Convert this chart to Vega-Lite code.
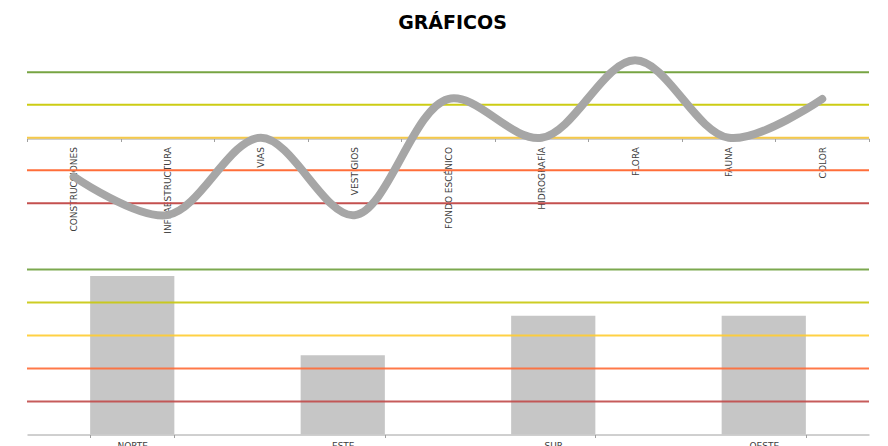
{
  "$schema": "https://vega.github.io/schema/vega-lite/v6.json",
  "padding": {"left": 23, "top": 14, "right": 18, "bottom": 0},
  "background": "white",
  "title": {"text": "GRÁFICOS", "fontSize": 19, "font": "DejaVu Sans", "fontWeight": "bold", "anchor": "middle", "color": "#000000", "offset": 8, "dx": 6},
  "config": {"view": {"stroke": null}, "concat": {"spacing": 18}},
  "datasets": {
    "curve": [
      {"factor": "CONSTRUCCIONES", "valor": 2},
      {"factor": "INFRAESTRUCTURA", "valor": 1},
      {"factor": "VIAS", "valor": 3},
      {"factor": "VESTIGIOS", "valor": 1},
      {"factor": "FONDO ESCÉNICO", "valor": 4},
      {"factor": "HIDROGRAFÍA", "valor": 3},
      {"factor": "FLORA", "valor": 5},
      {"factor": "FAUNA", "valor": 3},
      {"factor": "COLOR", "valor": 4}
    ],
    "topLevels": [
      {"nivel": "verde", "valor": 4.69},
      {"nivel": "amarillo", "valor": 3.85},
      {"nivel": "dorado", "valor": 3.0},
      {"nivel": "naranja", "valor": 2.16},
      {"nivel": "rojo", "valor": 1.31}
    ],
    "bars": [
      {"zona": "NORTE", "valor": 4.8},
      {"zona": "ESTE", "valor": 2.4},
      {"zona": "SUR", "valor": 3.6},
      {"zona": "OESTE", "valor": 3.6}
    ],
    "bottomLevels": [
      {"nivel": "verde", "valor": 5},
      {"nivel": "amarillo", "valor": 4},
      {"nivel": "dorado", "valor": 3},
      {"nivel": "naranja", "valor": 2},
      {"nivel": "rojo", "valor": 1}
    ]
  },
  "vconcat": [
    {
      "width": 842,
      "height": 193.5,
      "layer": [
        {
          "data": {"name": "topLevels"},
          "mark": {"type": "rule", "strokeWidth": 2},
          "encoding": {
            "y": {"field": "valor", "type": "quantitative", "scale": {"domain": [0.5, 5.5], "zero": false, "nice": false}, "axis": null},
            "color": {"field": "nivel", "type": "nominal", "scale": {"domain": ["verde", "amarillo", "dorado", "naranja", "rojo"], "range": ["#77a443", "#cccc14", "#f5c94a", "#ff6e3a", "#c4504f"]}, "legend": null}
          }
        },
        {
          "data": {"name": "curve"},
          "mark": {"type": "line", "interpolate": "catmull-rom", "strokeWidth": 8, "color": "#a6a6a6", "strokeCap": "round", "strokeJoin": "round"},
          "encoding": {
            "x": {"field": "factor", "type": "nominal", "sort": null, "scale": {"paddingInner": 0, "paddingOuter": 0},
              "axis": {"title": null, "offset": -96, "labelAngle": -90, "labelFontSize": 9, "labelFont": "DejaVu Sans", "labelColor": "#404040", "labelPadding": 5, "domainColor": "#a0a0a0", "tickColor": "#a0a0a0", "tickSize": 3, "tickBand": "extent", "grid": false}},
            "y": {"field": "valor", "type": "quantitative", "scale": {"domain": [0.5, 5.5], "zero": false, "nice": false}, "axis": null}
          }
        }
      ]
    },
    {
      "width": 842,
      "height": 181.5,
      "layer": [
        {
          "data": {"name": "bars"},
          "mark": {"type": "bar", "color": "#c6c6c6"},
          "encoding": {
            "x": {"field": "zona", "type": "nominal", "sort": null, "scale": {"paddingInner": 0.6, "paddingOuter": 0.3},
              "axis": {"title": null, "labelAngle": 0, "labelFontSize": 9, "labelFont": "DejaVu Sans", "labelColor": "#404040", "labelPadding": 4, "domainColor": "#a0a0a0", "tickColor": "#a0a0a0", "tickSize": 3, "tickBand": "extent", "grid": false}},
            "y": {"field": "valor", "type": "quantitative", "scale": {"domain": [0, 5.5], "nice": false}, "axis": null}
          }
        },
        {
          "data": {"name": "bottomLevels"},
          "mark": {"type": "rule", "strokeWidth": 2, "opacity": 0.9},
          "encoding": {
            "y": {"field": "valor", "type": "quantitative", "scale": {"domain": [0, 5.5], "nice": false}, "axis": null},
            "color": {"field": "nivel", "type": "nominal", "scale": {"domain": ["verde", "amarillo", "dorado", "naranja", "rojo"], "range": ["#6e9e3c", "#c8c80c", "#ffcc30", "#ff6a35", "#c04a49"]}, "legend": null}
          }
        }
      ],
      "resolve": {"scale": {"color": "independent"}}
    }
  ],
  "resolve": {"scale": {"color": "independent"}}
}
